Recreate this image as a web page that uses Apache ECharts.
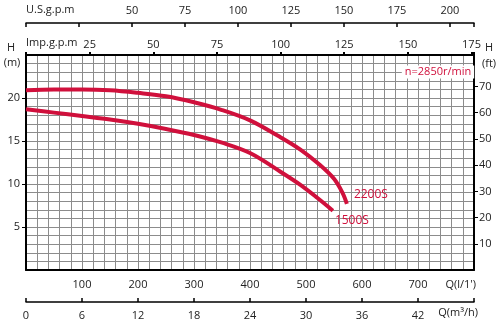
<!DOCTYPE html>
<html><head><meta charset="utf-8">
<script src="https://cdn.jsdelivr.net/npm/echarts@6/dist/echarts.min.js"></script>
<style>html,body{margin:0;padding:0;background:#fff}#c{width:500px;height:324px}</style>
</head><body><div id="c"></div>
<script>
// Flow (l/min) and head (m) points
const q2200 = [0, 50, 100, 150, 200, 250, 300, 350, 400, 450, 490, 525, 550, 565, 573];
const h2200 = [20.9, 21.0, 21.0, 20.9, 20.6, 20.2, 19.5, 18.6, 17.4, 15.6, 14.0, 12.2, 10.6, 9.0, 7.7];
const q1500 = [0, 50, 100, 150, 200, 250, 300, 350, 400, 455, 490, 520, 548];
const h1500 = [18.7, 18.3, 17.9, 17.5, 17.0, 16.4, 15.7, 14.8, 13.6, 11.4, 9.9, 8.4, 6.9];
const seriesNames = ['2200S', '1500S'];
const lpmLabels = [100, 200, 300, 400, 500, 600, 700];
const m3hLabels = [0, 6, 12, 18, 24, 30, 36, 42];
const impLabels = [25, 50, 75, 100, 125, 150, 175];
const usLabels = [50, 75, 100, 125, 150, 175, 200];
const mLabels = [5, 10, 15, 20];
const ftLabels = [10, 20, 30, 40, 50, 60, 70];
const speedText = 'n=2850r/min';

const RED = '#d0103c';
const FONT = 'Open Sans';
const txt = {color: '#222', fontFamily: FONT, fontSize: 11};
const QMAX = 800, HMAX = 25;

const chart = echarts.init(document.getElementById('c'), null, {renderer: 'canvas'});
const zip = (a, b) => a.map((v, i) => [v, b[i]]);
const gridLineStyle = {color: '#8c8c8c', width: 1};

chart.setOption({
  animation: false,
  grid: {left: 26, right: 26, top: 55, bottom: 54},
  xAxis: [
    { type: 'value', position: 'bottom', min: 0, max: QMAX, interval: 100,
      axisLine: {show: true, onZero: false, lineStyle: {color: '#000', width: 2}},
      axisTick: {show: false},
      axisLabel: Object.assign({margin: 9, customValues: lpmLabels}, txt),
      splitLine: {show: true, lineStyle: gridLineStyle},
      minorTick: {show: false, splitNumber: 5},
      minorSplitLine: {show: true, lineStyle: gridLineStyle} },
    { type: 'value', position: 'bottom', offset: 32, min: 0, max: QMAX * 0.06, interval: 6,
      axisLine: {show: true, onZero: false, lineStyle: {color: '#000', width: 1.5}},
      axisTick: {show: true, length: 4, inside: true, lineStyle: {color: '#000', width: 1.5}},
      axisLabel: Object.assign({margin: 8, customValues: m3hLabels}, txt),
      splitLine: {show: false} },
    { type: 'value', position: 'top', offset: 0, min: 0, max: QMAX / 4.546, interval: 25,
      axisLine: {show: true, onZero: false, lineStyle: {color: '#000', width: 2}},
      axisTick: {show: true, length: 3, lineStyle: {color: '#000', width: 2}},
      axisLabel: Object.assign({margin: 5, customValues: impLabels}, txt),
      splitLine: {show: false} },
    { type: 'value', position: 'top', offset: 32, min: 0, max: QMAX / 3.785, interval: 25,
      axisLine: {show: true, onZero: false, lineStyle: {color: '#000', width: 1.5}},
      axisTick: {show: true, length: 4, inside: true, lineStyle: {color: '#000', width: 1.5}},
      axisLabel: Object.assign({margin: 7, customValues: usLabels}, txt),
      splitLine: {show: false} }
  ],
  yAxis: [
    { type: 'value', position: 'left', min: 0, max: HMAX, interval: 5,
      axisLine: {show: true, onZero: false, lineStyle: {color: '#000', width: 2}},
      axisTick: {show: true, length: 4, customValues: mLabels, lineStyle: {color: '#000', width: 1}},
      axisLabel: Object.assign({margin: 6, customValues: mLabels}, txt),
      splitLine: {show: true, lineStyle: gridLineStyle},
      minorTick: {show: false, splitNumber: 5},
      minorSplitLine: {show: true, lineStyle: gridLineStyle} },
    { type: 'value', position: 'right', min: 0, max: HMAX / 0.3048, interval: 10,
      axisLine: {show: true, onZero: false, lineStyle: {color: '#000', width: 2}},
      axisTick: {show: true, length: 4, customValues: ftLabels, lineStyle: {color: '#000', width: 1}},
      axisLabel: Object.assign({margin: 5, customValues: ftLabels}, txt),
      splitLine: {show: false} }
  ],
  series: [
    { name: seriesNames[0], type: 'line', xAxisIndex: 0, yAxisIndex: 0, smooth: 0.35,
      symbol: 'none', data: zip(q2200, h2200),
      lineStyle: {color: RED, width: 4, cap: 'butt'}, z: 5 },
    { name: seriesNames[1], type: 'line', xAxisIndex: 0, yAxisIndex: 0, smooth: 0.35,
      symbol: 'none', data: zip(q1500, h1500),
      lineStyle: {color: RED, width: 4, cap: 'butt'}, z: 5 }
  ]
});

const end2200 = chart.convertToPixel({xAxisIndex: 0, yAxisIndex: 0}, [q2200[q2200.length - 1], h2200[h2200.length - 1]]);
const end1500 = chart.convertToPixel({xAxisIndex: 0, yAxisIndex: 0}, [q1500[q1500.length - 1], h1500[h1500.length - 1]]);
const labelStyle = (t) => ({text: t, fill: RED, font: '12px "' + FONT + '"', textVerticalAlign: 'middle'});
const plain = (t, x, y, align) => ({type: 'text', left: null, x: x, y: y,
  style: {text: t, fill: '#222', font: '11px "' + FONT + '"', textAlign: align || 'left', textVerticalAlign: 'middle'}});

chart.setOption({
  graphic: [
    {type: 'text', x: end2200[0] + 7, y: end2200[1] - 9, style: labelStyle(seriesNames[0]), z: 10},
    {type: 'text', x: end1500[0] + 2, y: end1500[1] + 10, style: labelStyle(seriesNames[1]), z: 10},
    {type: 'text', x: 438, y: 72, z: 10,
      style: {text: speedText, fill: RED, font: '11px "' + FONT + '"', textAlign: 'center', textVerticalAlign: 'middle',
        backgroundColor: '#fff', padding: [1, 3]}},
    plain('U.S.g.p.m', 26, 10),
    plain('Imp.g.p.m', 26, 43),
    plain('H', 11, 48, 'center'),
    plain('(m)', 12, 63, 'center'),
    plain('H', 489, 48, 'center'),
    plain('(ft)', 489, 64, 'center'),
    plain("Q(l/1')", 476, 285, 'right'),
    plain('Q(m³/h)', 478, 313, 'right')
  ]
});
</script></body></html>
